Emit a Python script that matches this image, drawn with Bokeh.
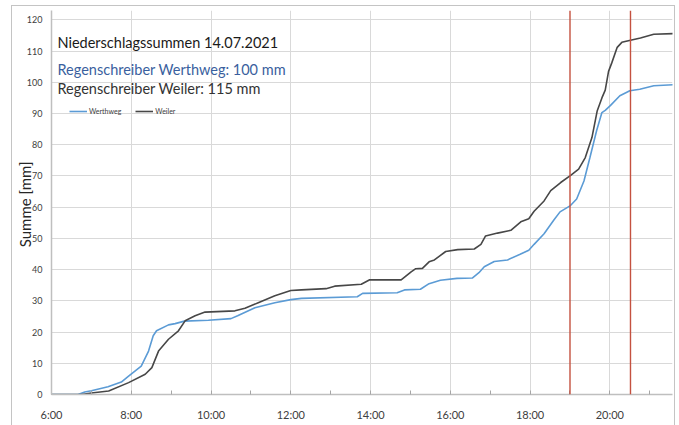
from bokeh.plotting import figure
from bokeh.models import FixedTicker, Span, Label, Legend, LegendItem, ColumnDataSource
from bokeh.embed import file_html
from bokeh.resources import INLINE

# ---- data ----
werthweg_time = ["06:00", "06:40", "06:50", "07:00", "07:25", "07:45", "07:56", "08:15", "08:26",
                 "08:33", "08:38", "08:56", "09:06", "09:20", "09:56", "10:30", "10:40", "11:06",
                 "11:36", "12:00", "12:16", "13:40", "13:48", "14:40", "14:51", "15:15", "15:28",
                 "15:45", "16:10", "16:33", "16:43", "16:51", "17:06", "17:26", "17:45", "17:58",
                 "18:06", "18:21", "18:36", "18:45", "19:00", "19:10", "19:21", "19:30", "19:40",
                 "19:48", "19:53", "20:01", "20:15", "20:30", "20:45", "21:06", "21:35"]
werthweg_mm = [0, 0, 0.8, 1.2, 2.5, 4.0, 5.9, 9.1, 13.9,
               18.8, 20.4, 22.3, 22.7, 23.5, 23.8, 24.3, 25.2, 27.8,
               29.4, 30.4, 30.8, 31.3, 32.4, 32.6, 33.5, 33.7, 35.5,
               36.6, 37.2, 37.3, 39.0, 40.9, 42.6, 43.1, 44.9, 46.2,
               48.1, 51.5, 56.0, 58.5, 60.4, 62.6, 68.4, 75.9, 84.5,
               90.3, 91.0, 92.6, 95.7, 97.3, 97.8, 98.9, 99.2]

weiler_time = ["06:00", "06:45", "07:00", "07:26", "07:56", "08:21", "08:31", "08:41", "08:56",
               "09:11", "09:21", "09:36", "09:51", "10:36", "10:51", "11:11", "11:36", "12:00",
               "12:16", "12:53", "13:06", "13:46", "13:58", "14:46", "15:01", "15:08", "15:18",
               "15:28", "15:36", "15:53", "16:11", "16:36", "16:46", "16:53", "17:11", "17:31",
               "17:46", "17:58", "18:06", "18:21", "18:31", "18:46", "19:01", "19:13", "19:23",
               "19:33", "19:41", "19:48", "19:53", "19:58", "20:03", "20:11", "20:18", "20:31",
               "20:46", "21:06", "21:35"]
weiler_mm = [0, 0, 0.5, 1.1, 3.8, 6.5, 8.6, 13.9, 17.7,
             20.4, 23.6, 25.2, 26.4, 26.8, 27.6, 29.4, 31.6, 33.3,
             33.5, 33.9, 34.7, 35.3, 36.7, 36.7, 39.3, 40.3, 40.4,
             42.5, 43.1, 45.8, 46.4, 46.6, 48.1, 50.8, 51.7, 52.6,
             55.3, 56.3, 58.7, 62.0, 65.3, 67.9, 70.2, 72.2, 75.9,
             82.3, 90.9, 95.0, 97.5, 103.5, 106.3, 111.2, 112.8, 113.5,
             114.2, 115.4, 115.6]

x_tick_labels = ["6:00", "8:00", "10:00", "12:00", "14:00", "16:00", "18:00", "20:00"]
marker_times = ["19:00", "20:31"]
y_ticks = [0, 10, 20, 30, 40, 50, 60, 70, 80, 90, 100, 110, 120]

title_lines = ["Niederschlagssummen 14.07.2021",
               "Regenschreiber Werthweg: 100 mm",
               "Regenschreiber Weiler: 115 mm"]
series_names = ["Werthweg", "Weiler"]
y_title = "Summe  [mm]"


def to_h(t):
    h, m = t.split(":")
    return int(h) + int(m) / 60.0


FONT = "Lato"
BLUE = "#5b9bd5"

src_w = ColumnDataSource(dict(x=[to_h(t) for t in werthweg_time], y=werthweg_mm))
src_v = ColumnDataSource(dict(x=[to_h(t) for t in weiler_time], y=weiler_mm))

p = figure(width=662, height=419, output_backend="svg", toolbar_location=None,
           x_range=(6, 21.57), y_range=(0, 123),
           min_border_left=37, min_border_right=2, min_border_top=4, min_border_bottom=31,
           styles={"margin-left": "12px", "margin-top": "6px",
                   "outline": "1.5px solid #c4c4c4"})
p.outline_line_color = None
p.background_fill_color = "white"
p.border_fill_color = "white"

major_x = [to_h(t) for t in x_tick_labels]
minor_x = [h + 1 for h in major_x]
p.xaxis.ticker = FixedTicker(ticks=major_x, minor_ticks=minor_x)
p.xaxis.major_label_overrides = {to_h(t): t for t in x_tick_labels}
p.yaxis.ticker = FixedTicker(ticks=y_ticks)

for ax in (p.xaxis[0], p.yaxis[0]):
    ax.axis_line_color = "#bfbfbf"
    ax.axis_line_width = 1.5
    ax.major_label_text_font = FONT
    ax.major_label_text_color = "#404040"
    ax.major_tick_out = 0
    ax.minor_tick_out = 0

p.xaxis.major_tick_in = 4
p.xaxis.minor_tick_in = 4
p.xaxis.major_tick_line_color = "#a6a6a6"
p.xaxis.minor_tick_line_color = "#a6a6a6"
p.xaxis.major_label_text_font_size = "11px"
p.xaxis.major_label_standoff = 13
p.yaxis.major_tick_in = 0
p.yaxis.major_label_text_font_size = "9px"
p.yaxis.major_label_standoff = 9

p.yaxis.axis_label = y_title
p.yaxis.axis_label_text_font = FONT
p.yaxis.axis_label_text_font_size = "15px"
p.yaxis.axis_label_text_font_style = "normal"
p.yaxis.axis_label_text_color = "#262626"
p.yaxis.axis_label_standoff = -10

p.xgrid.ticker = FixedTicker(ticks=major_x)
p.xgrid.grid_line_color = "#d9d9d9"
p.ygrid.grid_line_color = "#d9d9d9"

for t in marker_times:
    p.add_layout(Span(location=to_h(t), dimension="height", line_color="#c4513f",
                      line_width=1.4))

r_w = p.line("x", "y", source=src_w, line_color=BLUE, line_width=1.6)
r_v = p.line("x", "y", source=src_v, line_color="#474747", line_width=1.6)

legend = Legend(items=[LegendItem(label=series_names[0], renderers=[r_w]),
                       LegendItem(label=series_names[1], renderers=[r_v])],
                orientation="horizontal", location=(18, 279),
                label_text_font=FONT, label_text_font_size="7px", label_text_color="#404040",
                glyph_width=18, glyph_height=8, label_standoff=2, spacing=14,
                padding=0, margin=0, label_height=8,
                background_fill_alpha=0, border_line_alpha=0)
p.add_layout(legend)

ys = [112.7, 104.0, 97.9]
colors = ["#1a1a1a", "#3a5f9e", "#333333"]
for txt, yv, c in zip(title_lines, ys, colors):
    p.add_layout(Label(x=6.15, y=yv, text=txt, text_font=FONT, text_font_size="14.5px",
                       text_color=c, text_baseline="middle", text_align="left"))

open("out.html", "w").write(file_html(p, INLINE))
